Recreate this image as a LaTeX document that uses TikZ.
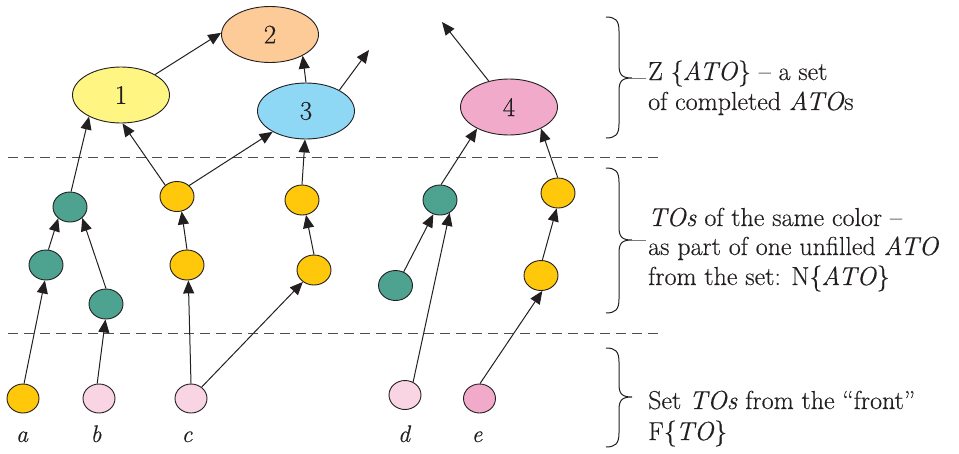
\documentclass[tikz,border=0pt]{standalone}
\usepackage{fontspec}
\setmainfont{Latin Modern Roman}[FakeBold=0.35]
\usetikzlibrary{arrows.meta,shapes.geometric}

\definecolor{ink}{HTML}{231F20}
\definecolor{lemon}{HTML}{FFF582}
\definecolor{peach}{HTML}{FDCB98}
\definecolor{sky}{HTML}{8ED8F6}
\definecolor{rose}{HTML}{F2AACB}
\definecolor{teal}{HTML}{4DA390}
\definecolor{gold}{HTML}{FFC80B}
\definecolor{blush}{HTML}{F9D4E2}

% curly brace opening to the right: top, tip and bottom heights
\newcommand\setbrace[3]{%
  \draw[brace] (606,#1) .. controls (615,#1) and (619,#1+3) .. (619,#1+14)
    -- (619,#2-13) .. controls (619,#2-3) and (622,#2) .. (632,#2)
    .. controls (622,#2) and (619,#2+3) .. (619,#2+13)
    -- (619,#3-14) .. controls (619,#3-3) and (615,#3) .. (606,#3);}

\begin{document}
\begin{tikzpicture}[x=1pt,y=-1pt,
  big/.style={ellipse, draw=ink, line width=0.9pt, minimum width=97pt,
    minimum height=56pt, inner sep=0pt, text=ink, font=\fontsize{27}{30}\selectfont},
  tonode/.style={ellipse, draw=ink, line width=0.9pt, minimum width=34pt,
    minimum height=30pt, inner sep=0pt},
  frontnode/.style={tonode, minimum width=32pt, minimum height=29pt},
  link/.style={draw=ink, line width=1pt, -{Triangle[length=13pt,width=11pt]}},
  sep/.style={draw=ink!80, line width=0.9pt, dash pattern=on 10pt off 6pt},
  brace/.style={draw=ink, line width=1pt},
  stub/.style={draw=ink!60, line width=1pt},
  note/.style={anchor=base west, inner sep=0pt, text=ink, font=\fontsize{26}{30}\selectfont},
  lbl/.style={anchor=base, inner sep=0pt, text=ink, font=\fontsize{24}{28}\selectfont\itshape}]
\useasboundingbox (0,0) rectangle (959,453);

% completed ATOs
\node[big, fill=lemon] (n1) at (121,95) {1};
\node[big, fill=peach] (n2) at (270,34.5) {2};
\node[big, fill=sky]   (n3) at (306,111) {3};
\node[big, fill=rose]  (n4) at (509,107) {4};
\coordinate (f3) at (369,50);
\coordinate (f4) at (442,22);

% TOs of unfilled ATOs
\node[tonode, fill=teal] (g1) at (70,207) {};
\node[tonode, fill=teal] (g2) at (46,265) {};
\node[tonode, fill=teal] (g3) at (106,304) {};
\node[tonode, fill=gold] (y1) at (177,196.5) {};
\node[tonode, fill=gold] (y2) at (187,265) {};
\node[tonode, fill=gold] (y3) at (302,200) {};
\node[tonode, fill=gold] (y4) at (314,270) {};
\node[tonode, fill=teal] (g4) at (395.5,285.5) {};
\node[tonode, fill=teal] (g5) at (440,200) {};
\node[tonode, fill=gold] (y5) at (558,193) {};
\node[tonode, fill=gold] (y6) at (541,275.5) {};

% front TOs
\node[frontnode, fill=gold]  (a) at (23,398.5) {};
\node[frontnode, fill=blush] (b) at (99,398.5) {};
\node[frontnode, fill=blush] (c) at (191,398.5) {};
\node[frontnode, fill=blush] (d) at (405,395) {};
\node[frontnode, fill=rose]  (e) at (479.5,398.5) {};
\node[lbl] (la) at (22,442) {a};
\node[lbl] (lb) at (96,442) {b};
\node[lbl] (lc) at (187,442) {c};
\node[lbl] (ld) at (404,442) {d};
\node[lbl] (le) at (477,442) {e};

% level separators
\coordinate (s1a) at (8,157);   \coordinate (s1b) at (663,157);
\coordinate (s2a) at (8,333);   \coordinate (s2b) at (663,333);
\draw[sep] (s1a) -- (s1b);
\draw[sep] (s2a) -- (s2b);

% links
\draw[link] (n1.31) -- (n2.178);
\draw[link] (n3.90) -- (n2.327);
\draw[link] (n3.32) -- (f3);
\draw[link] (n4.128) -- (f4);
\draw[link] (g1.86) -- (n1.214);
\draw[link] (y1.136) -- (n1.273);
\draw[link] (y1.42) -- (n3.212);
\draw[link] (y3.90) -- (n3.268);
\draw[link] (g2.81) -- (g1.224);
\draw[link] (g3.90) -- (g1.318);
\draw[link] (y2.90) -- (y1.287);
\draw[link] (y4.90) -- (y3.285);
\draw[link] (a.86) -- (g2.266);
\draw[link] (b.97) -- (g3.268);
\draw[link] (c.90) -- (y2.275);
\draw[link] (c.47) -- (y4.227);
\draw[link] (g4.59) -- (g5.245);
\draw[link] (d.58) -- (g5.307);
\draw[link] (e.88) -- (y6.275);
\draw[link] (y6.85) -- (y5.265);
\draw[link] (y5.91) -- (n4.326);
\draw[link] (g5.86) -- (n4.214);

% braces and their notes
\setbrace{17}{78}{138}
\draw[stub] (632,78) -- (646,78);
\setbrace{168}{240}{313}
\draw[stub] (632,240) -- (646,240);
\setbrace{348}{397}{447}

\node[note] (t1a) at (648,80)  {Z \{\kern-1pt\textit{ATO}\} -- a set};
\node[note] (t1b) at (648,110) {of completed \textit{ATO}s};
\node[note] (t2a) at (648,226) {\textit{TOs} of the same color --};
\node[note] (t2b) at (648,255) {as part of one unfilled \textit{ATO}};
\node[note] (t2c) at (648,285) {from the set: N\{\kern-1pt\textit{ATO}\}};
\node[note] (t3a) at (648,409) {Set \textit{TOs} from the ``front''};
\node[note] (t3b) at (648,440) {F\{\kern-1pt\textit{TO}\}};
\end{tikzpicture}
\end{document}
